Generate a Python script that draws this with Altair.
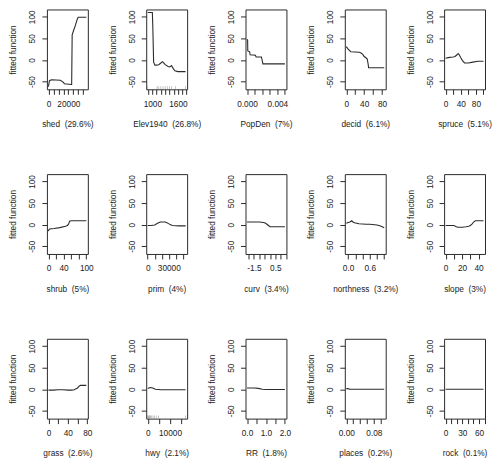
import altair as alt
import pandas as pd

# ---------------- data ----------------
YDOM = [-68, 117]
Y_TICKS = [-50, 0, 50, 100]

shed_x = [0, 1000, 3000, 12000, 15000, 16000, 23000, 23300, 23800, 25500, 27000, 29000, 29800, 38000]
shed_y = [-62, -48, -46, -47, -52, -55, -57, -57, 58, 70, 80, 95, 99, 99]

elev_x = [892, 1000, 1010, 1030, 1060, 1100, 1150, 1200, 1240, 1260, 1300, 1370, 1410, 1450, 1490, 1530, 1600, 1780]
elev_y = [110, 110, 80, -5, -12, -12, -11, -7, -4, -6, -11, -15, -16, -13, -20, -25, -27, -27]
elev_rug = [892, 1110, 1150, 1200, 1250, 1300, 1350, 1400, 1450, 1540, 1780]

popden_x = [0, 0.00008, 0.0001, 0.00035, 0.0004, 0.0011, 0.0012, 0.0019, 0.0021, 0.005]
popden_y = [48, 46, 21, 19, 12, 11, 7, 7, -9, -9]

decid_x = [0, 4, 10, 29, 33, 37, 40, 44, 47, 49, 50, 85]
decid_y = [31, 25, 19, 18, 16, 13, 8, 5, 2, -10, -18, -18]

spruce_x = [0, 10, 20, 25, 30, 33, 36, 40, 45, 50, 60, 72, 85, 92, 100]
spruce_y = [4, 6, 7, 8, 12, 15, 12, 5, -2, -7, -7, -5, -3, -3, -3]

shrub_x = [0, 1, 3, 15, 30, 45, 50, 53, 56, 60, 70, 100]
shrub_y = [-15, -12, -10, -9, -7, -4, -2, 1, 8, 9, 9, 9]

prim_x = [0, 5000, 10000, 14000, 18000, 25000, 28000, 32000, 35000, 45000, 54000]
prim_y = [-2, -2, -1, 3, 6, 6, 4, 0, -2, -3, -3]

curv_x = [-2.15, -1.5, -1.0, -0.6, -0.4, -0.2, 0.0, 0.2, 0.6, 1.0, 1.4]
curv_y = [6, 6, 6, 5, 3, -1, -5, -5, -5, -5, -5]

north_x = [-0.05, 0.0, 0.05, 0.1, 0.15, 0.3, 0.5, 0.6, 0.8, 0.9, 1.0]
north_y = [3, 5, 6, 9, 5, 2, 1, 1, -1, -3, -7]

slope_x = [0, 5, 10, 13, 15, 20, 25, 28, 30, 32, 34, 36, 40, 46]
slope_y = [-2, -2, -2, -5, -6, -6, -5, -4, -2, 1, 6, 9, 9, 9]

grass_x = [0, 10, 20, 30, 40, 48, 53, 57, 60, 63, 66, 70, 78]
grass_y = [-2, -2, -1, -1, -2, -2, -1, 1, 3, 7, 9, 9, 9]

hwy_x = [0, 500, 1200, 2300, 3400, 6000, 10000, 17000]
hwy_y = [2, 3, 4, 3, 0, -1, -1, -1]
hwy_rug = [0, 300, 600, 900, 1300, 1800, 2400, 3000, 3800, 4800, 17000]

rr_x = [0, 0.2, 0.4, 0.6, 0.8, 1.0, 1.5, 2.0]
rr_y = [3, 3, 3, 2, 0, -0.5, -0.5, -0.5]

places_x = [0, 0.005, 0.01, 0.02, 0.11]
places_y = [1.5, 1.5, 0, 0, 0]

rock_x = [0, 10, 20, 30, 40, 50, 60, 68]
rock_y = [0, 0, 0, 0, 0, 0, 0, 0]

titles = ["shed (29.6%)", "Elev1940 (26.8%)", "PopDen (7%)", "decid (6.1%)", "spruce (5.1%)",
          "shrub (5%)", "prim (4%)", "curv (3.4%)", "northness (3.2%)", "slope (3%)",
          "grass (2.6%)", "hwy (2.1%)", "RR (1.8%)", "places (0.2%)", "rock (0.1%)"]

domains = [[-1520, 39520], [856, 1816], [-0.0002, 0.0052], [-3.4, 88.4], [-4, 104],
           [-4, 104], [-2100, 56100], [-2.29, 1.54], [-0.092, 1.042], [-1.84, 47.84],
           [-3.1, 81.1], [-680, 17680], [-0.08, 2.08], [-0.0044, 0.1144], [-2.7, 70.7]]

tick_vals = [
    [0, 5000, 10000, 15000, 20000, 25000, 30000, 35000],
    [900, 1000, 1100, 1200, 1300, 1400, 1500, 1600, 1700, 1800],
    [0, 0.001, 0.002, 0.003, 0.004, 0.005],
    [0, 20, 40, 60, 80],
    [0, 20, 40, 60, 80, 100],
    [0, 20, 40, 60, 80, 100],
    [0, 10000, 20000, 30000, 40000, 50000],
    [-2.0, -1.5, -1.0, -0.5, 0.0, 0.5, 1.0, 1.5],
    [0.0, 0.2, 0.4, 0.6, 0.8, 1.0],
    [0, 10, 20, 30, 40],
    [0, 20, 40, 60, 80],
    [0, 5000, 10000, 15000],
    [0.0, 0.5, 1.0, 1.5, 2.0],
    [0.0, 0.02, 0.04, 0.06, 0.08, 0.10],
    [0, 10, 20, 30, 40, 50, 60, 70],
]

tick_labels = [
    {0: "0", 20000: "20000"},
    {1000: "1000", 1600: "1600"},
    {0: "0.000", 0.004: "0.004"},
    {0: "0", 40: "40", 80: "80"},
    {0: "0", 40: "40", 80: "80"},
    {0: "0", 40: "40", 100: "100"},
    {0: "0", 30000: "30000"},
    {-1.5: "-1.5", 0.5: "0.5"},
    {0.0: "0.0", 0.6: "0.6"},
    {0: "0", 20: "20", 40: "40"},
    {0: "0", 40: "40", 80: "80"},
    {0: "0", 10000: "10000"},
    {0.0: "0.0", 1.0: "1.0", 2.0: "2.0"},
    {0.0: "0.00", 0.08: "0.08"},
    {0: "0", 30: "30", 60: "60"},
]

series = [(shed_x, shed_y), (elev_x, elev_y), (popden_x, popden_y), (decid_x, decid_y),
          (spruce_x, spruce_y), (shrub_x, shrub_y), (prim_x, prim_y), (curv_x, curv_y),
          (north_x, north_y), (slope_x, slope_y), (grass_x, grass_y), (hwy_x, hwy_y),
          (rr_x, rr_y), (places_x, places_y), (rock_x, rock_y)]

rugs = {1: elev_rug, 11: hwy_rug}

# ---------------- styling ----------------
FONT = "Liberation Sans"
FS = 8.3
INK = "#2b2b2b"
W, H = 41, 80


def label_expr(mapping, dom):
    eps = (dom[1] - dom[0]) * 1e-6
    expr = "''"
    for v, s in mapping.items():
        expr = f"abs(datum.value - ({v})) < {eps} ? '{s}' : ({expr})"
    return expr


y_label_expr = "datum.value < 0 ? '-' + abs(datum.value) : '' + datum.value"

panels = []
for i, (xs, ys) in enumerate(series):
    dom = domains[i]
    df = pd.DataFrame({"x": xs, "y": ys})
    name, pct = titles[i].split(" ")
    title = name + " \u00a0" + pct
    xscale = alt.Scale(domain=dom, nice=False, zero=False)
    xaxis = alt.Axis(values=tick_vals[i], labelExpr=label_expr(tick_labels[i], dom),
                     title=title, labelFlush=False, labelOverlap=False)
    line = alt.Chart(df).mark_line(color=INK, strokeWidth=1.1, clip=True).encode(
        x=alt.X("x:Q", scale=xscale, axis=xaxis),
        y=alt.Y("y:Q", scale=alt.Scale(domain=YDOM, nice=False, zero=False),
                axis=alt.Axis(values=Y_TICKS, labelExpr=y_label_expr, title="fitted function",
                              labelAngle=270, labelAlign="center", labelBaseline="bottom",
                              labelPadding=5, titlePadding=10)),
    )
    layers = [line]
    if i in rugs:
        rdf = pd.DataFrame({"x": rugs[i]})
        rug = alt.Chart(rdf).mark_tick(color="#777777", thickness=0.6, size=3, orient="vertical").encode(
            x=alt.X("x:Q", scale=xscale, axis=xaxis), y=alt.value(H - 1.5))
        layers.append(rug)
    ch = alt.layer(*layers).properties(width=W, height=H)
    panels.append(ch)

chart = alt.concat(*panels, columns=5, bounds="flush",
                   spacing={"row": 85, "column": 58.5}).properties(
    padding={"left": 0, "top": 0, "right": 0, "bottom": 0}, background="white"
).configure_view(
    stroke=INK, strokeWidth=1
).configure_axis(
    labelFont=FONT, titleFont=FONT, labelFontSize=FS, titleFontSize=FS,
    titleFontWeight="normal", labelColor="#222222", titleColor="#222222",
    domain=False, grid=False, tickColor=INK, tickSize=5, tickWidth=1,
).configure_axisX(labelPadding=5, titlePadding=12)

chart.save("out.html", embed_options={"renderer": "svg", "actions": False})
